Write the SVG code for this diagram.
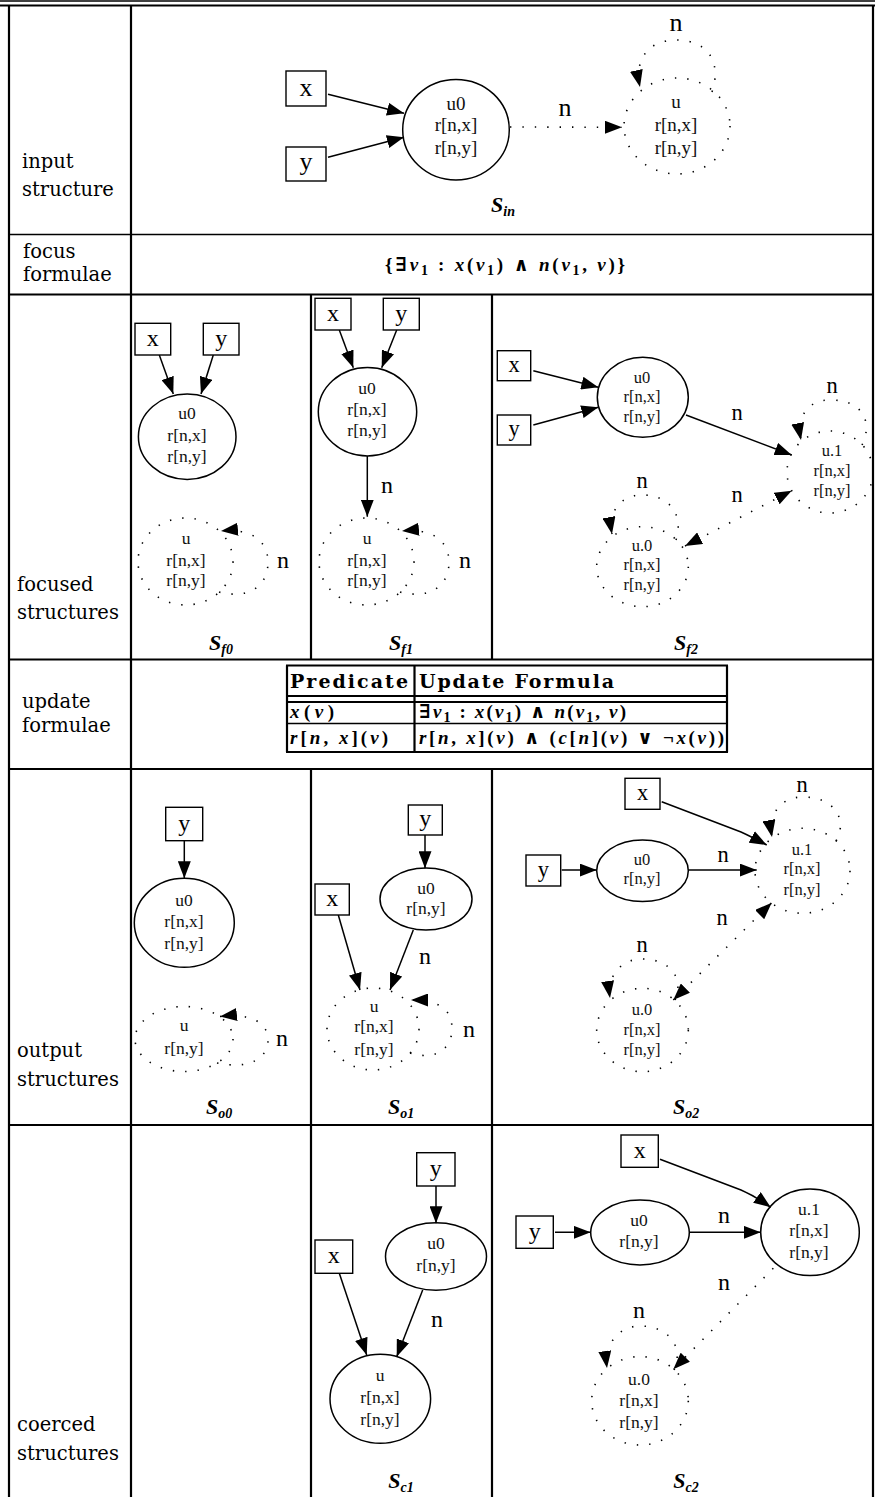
<svg xmlns="http://www.w3.org/2000/svg" width="875" height="1497" viewBox="0 0 875 1497">
<defs>
<style>
.g{stroke:#000;stroke-width:2.2;fill:none}
.gt{stroke:#000;stroke-width:1.4;fill:none}
.box{fill:#fff;stroke:#000;stroke-width:1.4}
.ell{fill:none;stroke:#000;stroke-width:1.5}
.dot{fill:none;stroke:#000;stroke-width:1.6;stroke-dasharray:1.4 11}
.e{fill:none;stroke:#000;stroke-width:1.5}
.nt{font-family:"Liberation Serif",serif;font-size:17.5px;text-anchor:middle;fill:#111}
.ni{font-size:19px}
.ns{font-size:16.5px}
.lb{font-family:"Liberation Serif",serif;font-size:24px;text-anchor:middle}
.lbi{font-size:26px}
.lbs{font-size:22.5px}
.rl{font-family:"DejaVu Serif",serif;font-size:19.5px}
.S{font-family:"Liberation Serif",serif;font-style:italic;font-weight:bold;font-size:22px;text-anchor:middle}
.sub{font-size:14px}
.m{font-family:"Liberation Serif","DejaVu Serif",serif;font-weight:bold;font-size:19px}
.it{font-style:italic}
.hd{font-family:"DejaVu Serif",serif;font-weight:bold;font-size:19px}
</style>
<marker id="a" markerUnits="userSpaceOnUse" markerWidth="18" markerHeight="13" refX="17" refY="6.5" orient="auto"><path d="M0,0 L17,6.5 L0,13 z" fill="#000"/></marker>
<marker id="as" markerUnits="userSpaceOnUse" markerWidth="18" markerHeight="13" refX="17" refY="6.5" orient="auto-start-reverse"><path d="M0,0 L17,6.5 L0,13 z" fill="#000"/></marker>
</defs>
<rect width="875" height="1497" fill="#fff"/>

<g id="grid">
<line class="gt" x1="0" y1="1" x2="875" y2="1"/>
<line class="g" x1="0" y1="5.5" x2="875" y2="5.5"/>
<line class="g" x1="9" y1="5" x2="9" y2="1497"/>
<line class="g" x1="131" y1="5" x2="131" y2="1497"/>
<line class="g" x1="873" y1="5" x2="873" y2="1497"/>
<line class="g" x1="311" y1="294.5" x2="311" y2="659.5"/>
<line class="g" x1="492" y1="294.5" x2="492" y2="659.5"/>
<line class="g" x1="311" y1="769" x2="311" y2="1497"/>
<line class="g" x1="492" y1="769" x2="492" y2="1497"/>
<line class="gt" x1="9" y1="234.5" x2="873" y2="234.5"/>
<line class="g" x1="9" y1="294.5" x2="873" y2="294.5"/>
<line class="g" x1="9" y1="659.5" x2="873" y2="659.5"/>
<line class="g" x1="9" y1="769" x2="873" y2="769"/>
<line class="g" x1="9" y1="1125" x2="873" y2="1125"/>
</g>

<g id="row-labels" class="rl">
<text x="22" y="168">input</text><text x="22" y="196">structure</text>
<text x="23" y="258">focus</text><text x="23" y="281">formulae</text>
<text x="17" y="591">focused</text><text x="17" y="619">structures</text>
<text x="22" y="708">update</text><text x="22" y="732">formulae</text>
<text x="17" y="1057">output</text><text x="17" y="1086">structures</text>
<text x="17" y="1431">coerced</text><text x="17" y="1460">structures</text>
</g>

<g id="focus-formula">
<text class="m" x="505" y="271" text-anchor="middle" textLength="240" lengthAdjust="spacing">{∃<tspan class="it">v</tspan><tspan class="sub" dy="4">1</tspan><tspan dy="-4"> : </tspan><tspan class="it">x</tspan>(<tspan class="it">v</tspan><tspan class="sub" dy="4">1</tspan><tspan dy="-4">) ∧ </tspan><tspan class="it">n</tspan>(<tspan class="it">v</tspan><tspan class="sub" dy="4">1</tspan><tspan dy="-4">, </tspan><tspan class="it">v</tspan>)}</text>
</g>

<g id="update-table">
<line class="g" x1="286" y1="665.5" x2="728" y2="665.5"/>
<line class="g" x1="287" y1="665.5" x2="287" y2="752"/>
<line class="g" x1="727" y1="665.5" x2="727" y2="752"/>
<line class="g" x1="414.5" y1="665.5" x2="414.5" y2="752"/>
<line class="g" x1="286" y1="696" x2="728" y2="696"/>
<line class="g" x1="286" y1="702" x2="728" y2="702"/>
<line class="gt" x1="286" y1="723.5" x2="728" y2="723.5"/>
<line class="g" x1="286" y1="752" x2="728" y2="752"/>
<text class="hd" x="290" y="688" textLength="118" lengthAdjust="spacing">Predicate</text>
<text class="hd" x="419" y="688" textLength="195" lengthAdjust="spacing">Update Formula</text>
<text class="m" x="290" y="718" textLength="44" lengthAdjust="spacing"><tspan class="it">x</tspan>(<tspan class="it">v</tspan>)</text>
<text class="m" x="419" y="718" textLength="207" lengthAdjust="spacing">∃<tspan class="it">v</tspan><tspan class="sub" dy="4">1</tspan><tspan dy="-4"> : </tspan><tspan class="it">x</tspan>(<tspan class="it">v</tspan><tspan class="sub" dy="4">1</tspan><tspan dy="-4">) ∧ </tspan><tspan class="it">n</tspan>(<tspan class="it">v</tspan><tspan class="sub" dy="4">1</tspan><tspan dy="-4">, </tspan><tspan class="it">v</tspan>)</text>
<text class="m" x="290" y="744" textLength="98" lengthAdjust="spacing"><tspan class="it">r</tspan>[<tspan class="it">n</tspan>, <tspan class="it">x</tspan>](<tspan class="it">v</tspan>)</text>
<text class="m" x="419" y="744" textLength="305" lengthAdjust="spacing"><tspan class="it">r</tspan>[<tspan class="it">n</tspan>, <tspan class="it">x</tspan>](<tspan class="it">v</tspan>) ∧ (<tspan class="it">c</tspan>[<tspan class="it">n</tspan>](<tspan class="it">v</tspan>) ∨ ¬<tspan class="it">x</tspan>(<tspan class="it">v</tspan>))</text>
</g>

<g id="connectors">
<!-- input -->
<path class="e" d="M328,94.3 L404,113.3" marker-end="url(#a)"/>
<path class="e" d="M328,157.3 L404,137.3" marker-end="url(#a)"/>
<path class="dot" d="M510,127 L622,127.3" marker-end="url(#a)"/>
<path class="dot" d="M712,92 C722,62 708,40 676,40 C648,40 634,60 640,87" marker-end="url(#a)"/>
<!-- Sf0 -->
<path class="e" d="M159.3,355 L173.3,394" marker-end="url(#a)"/>
<path class="e" d="M213.3,355 L201,394" marker-end="url(#a)"/>
<path class="dot" d="M219,592 C250,600 268,585 268,562 C268,540 250,528 221,531" marker-end="url(#a)"/>
<!-- Sf1 -->
<path class="e" d="M339.3,330 L353.3,367.7" marker-end="url(#a)"/>
<path class="e" d="M396.7,330 L381.7,367.7" marker-end="url(#a)"/>
<path class="e" d="M367.3,456 L367.3,516.7" marker-end="url(#a)"/>
<path class="dot" d="M400,592 C431,600 449,585 449,562 C449,540 431,528 402,531" marker-end="url(#a)"/>
<!-- Sf2 -->
<path class="e" d="M533.3,370.7 L598.3,387.3" marker-end="url(#a)"/>
<path class="e" d="M533.3,425 L598.3,407.3" marker-end="url(#a)"/>
<path class="e" d="M686,415 L791.7,455" marker-end="url(#a)"/>
<path class="dot" d="M685,546 L791.7,490.7" marker-start="url(#as)" marker-end="url(#as)"/>
<path class="dot" d="M862,445 C872,425 866,400 830,400 C805,400 797,420 801,440" marker-end="url(#a)"/>
<path class="dot" d="M676,540 C684,515 670,495 642,495 C620,495 608,512 612,534" marker-end="url(#a)"/>
<!-- So0 -->
<path class="e" d="M184.3,840.7 L184.3,878.3" marker-end="url(#a)"/>
<path class="dot" d="M217,1063 C250,1070 268,1058 268,1040 C268,1022 250,1013 220,1016.5" marker-end="url(#a)"/>
<!-- So1 -->
<path class="e" d="M425,835 L425,868.3" marker-end="url(#a)"/>
<path class="e" d="M338.3,915 L360,990" marker-end="url(#a)"/>
<path class="e" d="M413.3,930 L390,990" marker-end="url(#a)"/>
<path class="dot" d="M410,1053 C440,1062 452,1045 452,1029 C452,1010 440,1000 411,1000" marker-end="url(#a)"/>
<!-- So2 -->
<path class="e" d="M561.7,870 L596.7,870" marker-end="url(#a)"/>
<path class="e" d="M688.3,870 L756.7,870" marker-end="url(#a)"/>
<path class="e" d="M661.7,801.7 L741,832 Q752,837 766.7,845" marker-end="url(#a)"/>
<path class="dot" d="M673.3,1000 L771.7,902.7" marker-start="url(#as)" marker-end="url(#as)"/>
<path class="dot" d="M836,841 C848,820 835,797 803,797 C780,797 768,815 772,837" marker-end="url(#a)"/>
<path class="dot" d="M675,1000 C684,980 672,959 642,959 C620,959 607,977 610,998" marker-end="url(#a)"/>
<!-- Sc1 -->
<path class="e" d="M436,1186 L436,1223.3" marker-end="url(#a)"/>
<path class="e" d="M339.3,1273.3 L366.7,1355" marker-end="url(#a)"/>
<path class="e" d="M422.7,1290 L396.7,1356.7" marker-end="url(#a)"/>
<!-- Sc2 -->
<path class="e" d="M555,1232.3 L590.7,1232.3" marker-end="url(#a)"/>
<path class="e" d="M689.3,1232.3 L760.7,1232.3" marker-end="url(#a)"/>
<path class="e" d="M660,1159.3 L741,1190 Q755,1196 770.7,1207.3" marker-end="url(#a)"/>
<path class="dot" d="M773.3,1268.3 L673.3,1369.3" marker-end="url(#a)"/>
<path class="dot" d="M674,1370 C684,1348 670,1326 640,1326 C618,1326 604,1345 607,1368" marker-end="url(#a)"/>
</g>

<g id="edge-labels" class="lb">
<text class="lbi" x="565" y="116">n</text>
<text class="lbi" x="676" y="31">n</text>
<text x="283" y="568">n</text>
<text x="387" y="493">n</text>
<text x="465" y="568">n</text>
<text class="lbs" x="737" y="420">n</text>
<text class="lbs" x="737" y="502">n</text>
<text class="lbs" x="832" y="393">n</text>
<text class="lbs" x="642" y="488">n</text>
<text x="282" y="1046">n</text>
<text x="425" y="964">n</text>
<text x="469" y="1037">n</text>
<text class="lbs" x="723" y="861.7">n</text>
<text class="lbs" x="722" y="925">n</text>
<text class="lbs" x="802" y="791.7">n</text>
<text class="lbs" x="642" y="951.7">n</text>
<text x="437" y="1327">n</text>
<text x="724" y="1223.3">n</text>
<text x="724" y="1290">n</text>
<text x="639" y="1318.3">n</text>
</g>

<!-- input structure -->
<g id="in-x"><rect class="box" x="286" y="71" width="40" height="35"/><text class="lb lbi" x="306" y="95.5">x</text></g>
<g id="in-y"><rect class="box" x="286" y="147" width="40" height="34"/><text class="lb lbi" x="306" y="170">y</text></g>
<g id="in-u0"><ellipse class="ell" cx="456" cy="129.7" rx="53.3" ry="50.3"/><text class="nt ni" x="456" y="109.5">u0</text><text class="nt ni" x="456" y="131">r[n,x]</text><text class="nt ni" x="456" y="154">r[n,y]</text></g>
<g id="in-u"><ellipse class="dot" cx="677" cy="126" rx="53" ry="48"/><text class="nt ni" x="676" y="107.5">u</text><text class="nt ni" x="676" y="131">r[n,x]</text><text class="nt ni" x="676" y="154">r[n,y]</text></g>
<g id="S-in"><text class="S" x="503" y="212">S<tspan class="sub" dy="4">in</tspan></text></g>

<!-- Sf0 -->
<g id="f0-x"><rect class="box" x="135" y="323.3" width="35.7" height="31.7"/><text class="lb" x="152.8" y="345.5">x</text></g>
<g id="f0-y"><rect class="box" x="203.3" y="323.3" width="35.7" height="31.7"/><text class="lb" x="221.2" y="345.5">y</text></g>
<g id="f0-u0"><ellipse class="ell" cx="187.2" cy="436.7" rx="48.8" ry="42.7"/><text class="nt" x="187" y="419.3">u0</text><text class="nt" x="187" y="440.7">r[n,x]</text><text class="nt" x="187" y="462">r[n,y]</text></g>
<g id="f0-u"><ellipse class="dot" cx="185.5" cy="561.5" rx="47.5" ry="43.5"/><text class="nt" x="186" y="544">u</text><text class="nt" x="186" y="566.4">r[n,x]</text><text class="nt" x="186" y="586.4">r[n,y]</text></g>
<g id="S-f0"><text class="S" x="221" y="650">S<tspan class="sub" dy="4">f0</tspan></text></g>

<!-- Sf1 -->
<g id="f1-x"><rect class="box" x="315" y="298.3" width="36" height="31.7"/><text class="lb" x="333" y="320.5">x</text></g>
<g id="f1-y"><rect class="box" x="383.3" y="298.3" width="36" height="31.7"/><text class="lb" x="401.3" y="320.5">y</text></g>
<g id="f1-u0"><ellipse class="ell" cx="367.5" cy="411.8" rx="49.2" ry="44.2"/><text class="nt" x="367" y="394.3">u0</text><text class="nt" x="367" y="415.4">r[n,x]</text><text class="nt" x="367" y="436.4">r[n,y]</text></g>
<g id="f1-u"><ellipse class="dot" cx="366.5" cy="561.5" rx="47.5" ry="43.5"/><text class="nt" x="367" y="544">u</text><text class="nt" x="367" y="566.4">r[n,x]</text><text class="nt" x="367" y="586.4">r[n,y]</text></g>
<g id="S-f1"><text class="S" x="401" y="650">S<tspan class="sub" dy="4">f1</tspan></text></g>

<!-- Sf2 -->
<g id="f2-x"><rect class="box" x="497.3" y="350.7" width="33.4" height="30"/><text class="lb lbs" x="514" y="371.7">x</text></g>
<g id="f2-y"><rect class="box" x="497.3" y="415" width="33.4" height="30"/><text class="lb lbs" x="514" y="436">y</text></g>
<g id="f2-u0"><ellipse class="ell" cx="642.8" cy="397.3" rx="45.5" ry="40"/><text class="nt ns" x="642" y="382.5">u0</text><text class="nt ns" x="642" y="401.8">r[n,x]</text><text class="nt ns" x="642" y="421.8">r[n,y]</text></g>
<g id="f2-u1"><ellipse class="dot" cx="830" cy="472" rx="43" ry="41"/><text class="nt ns" x="832" y="456">u.1</text><text class="nt ns" x="832" y="476.2">r[n,x]</text><text class="nt ns" x="832" y="496.2">r[n,y]</text></g>
<g id="f2-u.0"><ellipse class="dot" cx="642.5" cy="566.7" rx="45.8" ry="40"/><text class="nt ns" x="642" y="551">u.0</text><text class="nt ns" x="642" y="570.2">r[n,x]</text><text class="nt ns" x="642" y="590.2">r[n,y]</text></g>
<g id="S-f2"><text class="S" x="686" y="650">S<tspan class="sub" dy="4">f2</tspan></text></g>

<!-- So0 -->
<g id="o0-y"><rect class="box" x="165.7" y="807.3" width="37" height="33.4"/><text class="lb" x="184.2" y="830.5">y</text></g>
<g id="o0-u0"><ellipse class="ell" cx="184.3" cy="922.8" rx="50" ry="44.5"/><text class="nt" x="184" y="906">u0</text><text class="nt" x="184" y="927.4">r[n,x]</text><text class="nt" x="184" y="948.7">r[n,y]</text></g>
<g id="o0-u"><ellipse class="dot" cx="184" cy="1039" rx="49" ry="32.5"/><text class="nt" x="184" y="1031">u</text><text class="nt" x="184" y="1054">r[n,y]</text></g>
<g id="S-o0"><text class="S" x="219" y="1114">S<tspan class="sub" dy="4">o0</tspan></text></g>

<!-- So1 -->
<g id="o1-x"><rect class="box" x="315" y="884" width="34.3" height="31"/><text class="lb" x="332.2" y="905.5">x</text></g>
<g id="o1-y"><rect class="box" x="408.3" y="805" width="34" height="30"/><text class="lb" x="425.3" y="826">y</text></g>
<g id="o1-u0"><ellipse class="ell" cx="426" cy="899" rx="46" ry="31"/><text class="nt" x="426" y="893.7">u0</text><text class="nt" x="426" y="914">r[n,y]</text></g>
<g id="o1-u"><ellipse class="dot" cx="373" cy="1029" rx="46" ry="41"/><text class="nt" x="374" y="1012">u</text><text class="nt" x="374" y="1032.4">r[n,x]</text><text class="nt" x="374" y="1054.7">r[n,y]</text></g>
<g id="S-o1"><text class="S" x="401" y="1114">S<tspan class="sub" dy="4">o1</tspan></text></g>

<!-- So2 -->
<g id="o2-x"><rect class="box" x="625" y="778.3" width="35" height="31"/><text class="lb lbs" x="642.5" y="799.5">x</text></g>
<g id="o2-y"><rect class="box" x="526" y="855" width="34.7" height="31"/><text class="lb lbs" x="543.3" y="876.5">y</text></g>
<g id="o2-u0"><ellipse class="ell" cx="642.5" cy="870.8" rx="45.8" ry="30.8"/><text class="nt ns" x="642" y="865">u0</text><text class="nt ns" x="642" y="884">r[n,y]</text></g>
<g id="o2-u1"><ellipse class="dot" cx="802.5" cy="870.8" rx="47.5" ry="42.5"/><text class="nt ns" x="802" y="855.3">u.1</text><text class="nt ns" x="802" y="874">r[n,x]</text><text class="nt ns" x="802" y="894.7">r[n,y]</text></g>
<g id="o2-u.0"><ellipse class="dot" cx="642.5" cy="1030" rx="45.8" ry="41.7"/><text class="nt ns" x="642" y="1015.3">u.0</text><text class="nt ns" x="642" y="1034.7">r[n,x]</text><text class="nt ns" x="642" y="1055.4">r[n,y]</text></g>
<g id="S-o2"><text class="S" x="686" y="1114">S<tspan class="sub" dy="4">o2</tspan></text></g>

<!-- Sc1 -->
<g id="c1-y"><rect class="box" x="416.7" y="1152.7" width="38.3" height="33.3"/><text class="lb" x="435.8" y="1176">y</text></g>
<g id="c1-u0"><ellipse class="ell" cx="436" cy="1256.5" rx="50.5" ry="33.7"/><text class="nt" x="436" y="1249.3">u0</text><text class="nt" x="436" y="1270.7">r[n,y]</text></g>
<g id="c1-x"><rect class="box" x="315" y="1240" width="37.7" height="33.3"/><text class="lb" x="333.8" y="1263">x</text></g>
<g id="c1-u"><ellipse class="ell" cx="380.3" cy="1398.8" rx="50.3" ry="44.5"/><text class="nt" x="380" y="1381">u</text><text class="nt" x="380" y="1403">r[n,x]</text><text class="nt" x="380" y="1425.4">r[n,y]</text></g>
<g id="S-c1"><text class="S" x="401" y="1488">S<tspan class="sub" dy="4">c1</tspan></text></g>

<!-- Sc2 -->
<g id="c2-x"><rect class="box" x="621" y="1135" width="37.3" height="32.3"/><text class="lb" x="639.7" y="1157.5">x</text></g>
<g id="c2-y"><rect class="box" x="516" y="1216" width="37.3" height="32.3"/><text class="lb" x="534.7" y="1238.5">y</text></g>
<g id="c2-u0"><ellipse class="ell" cx="640" cy="1232.5" rx="49.3" ry="32.5"/><text class="nt" x="639" y="1226">u0</text><text class="nt" x="639" y="1247.4">r[n,y]</text></g>
<g id="c2-u1"><ellipse class="ell" cx="810" cy="1232.3" rx="49.3" ry="43.3"/><text class="nt" x="809" y="1215.3">u.1</text><text class="nt" x="809" y="1236.4">r[n,x]</text><text class="nt" x="809" y="1258">r[n,y]</text></g>
<g id="c2-u.0"><ellipse class="dot" cx="640" cy="1400.8" rx="48.3" ry="44.2"/><text class="nt" x="639" y="1385.3">u.0</text><text class="nt" x="639" y="1406.4">r[n,x]</text><text class="nt" x="639" y="1428">r[n,y]</text></g>
<g id="S-c2"><text class="S" x="686" y="1488">S<tspan class="sub" dy="4">c2</tspan></text></g>
</svg>
